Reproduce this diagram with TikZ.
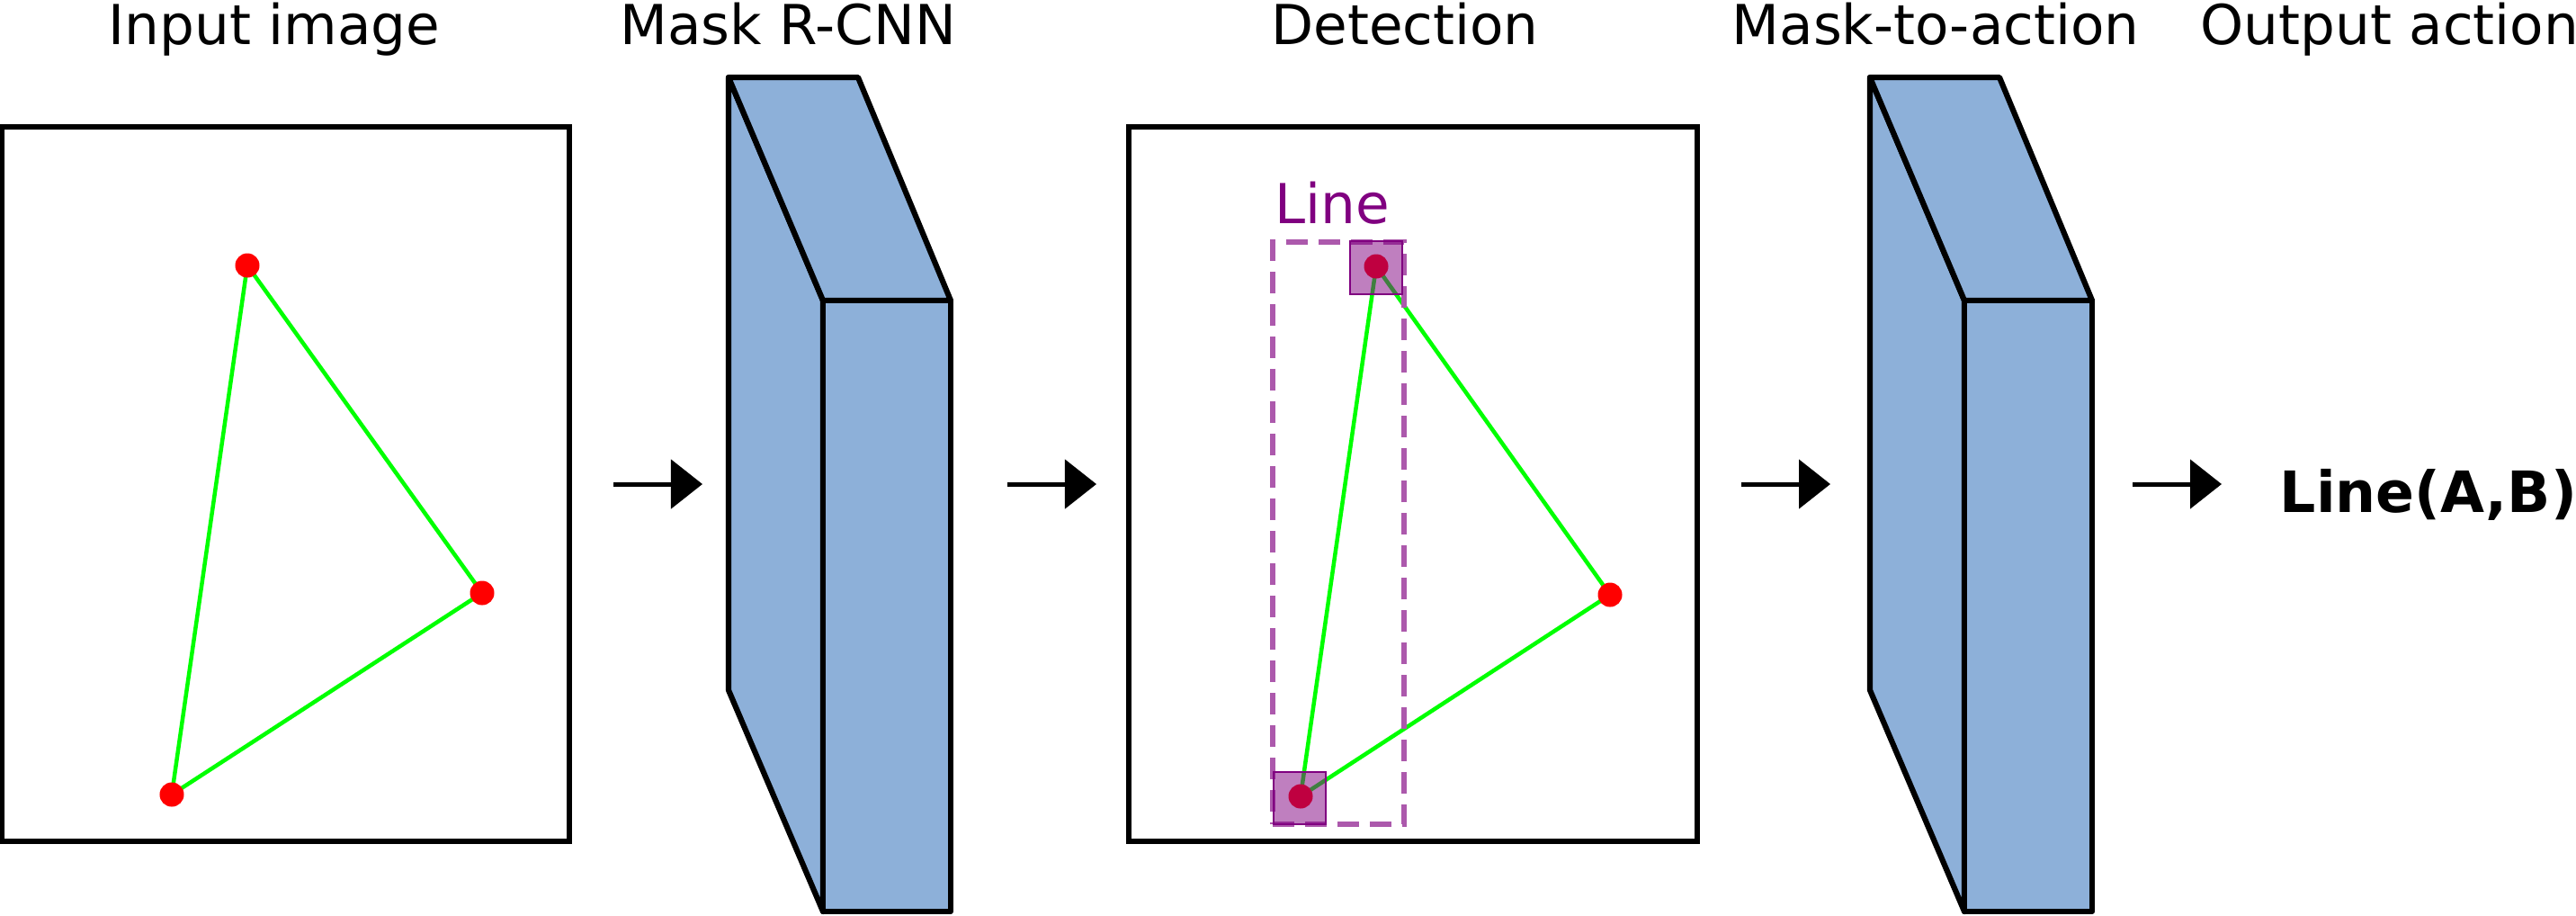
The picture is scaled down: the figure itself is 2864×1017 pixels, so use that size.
\documentclass[tikz,border=0pt]{standalone}
\usepackage{fontspec}
\setmainfont{DejaVu Sans}
\usetikzlibrary{arrows.meta}
\definecolor{blockblue}{RGB}{141,176,217}
\definecolor{lgreen}{RGB}{0,255,0}
\definecolor{lpurple}{RGB}{128,0,128}
\begin{document}
\begin{tikzpicture}[x=0.01cm,y=-0.01cm,
  title/.style={font=\fontsize{17.4}{20}\selectfont, anchor=base, inner sep=0},
  frame/.style={draw, line width=0.06cm, minimum width=6.31cm, minimum height=7.94cm, inner sep=0},
  dot/.style={circle, fill=red, minimum size=0.27cm, inner sep=0},
  edge/.style={draw=lgreen, line width=0.045cm},
  face/.style={fill=blockblue, draw=black, line width=0.062cm, line join=round},
  flow/.style={-{Triangle[length=0.35cm,width=0.54cm]}, line width=0.05cm},
  sel/.style={fill=lpurple, fill opacity=0.5, draw=lpurple, draw opacity=1, line width=0.02cm, minimum size=0.58cm, inner sep=0},
  bbox/.style={draw=lpurple!65, dash pattern=on 0.24cm off 0.12cm, line width=0.055cm, inner sep=0, minimum width=1.46cm, minimum height=6.47cm}
]
\useasboundingbox (0,0) rectangle (2864,1017);

% titles
\node[title] (t1) at (305,49) {Input image};
\node[title] (t2) at (876,49) {Mask R-CNN};
\node[title] (t3) at (1562,49) {Detection};
\node[title] (t4) at (2152,49) {Mask-to-action};
\node[title, anchor=base west] (t5) at (2446,49) {Output action};

% input image
\node[frame] (inbox) at (317.5,538) {};
\coordinate (iA) at (275,295);
\coordinate (iB) at (536,659);
\coordinate (iC) at (191,883);
\draw[edge] (iA) -- (iB) -- (iC) -- cycle;
\node[dot] (iAd) at (iA) {};
\node[dot] (iBd) at (iB) {};
\node[dot] (iCd) at (iC) {};

% Mask R-CNN block
\draw[face] (810,86) -- (915,334) -- (915,1013) -- (810,767) -- cycle;
\draw[face] (810,86) -- (954,86) -- (1057,334) -- (915,334) -- cycle;
\draw[face] (915,334) rectangle (1057,1013);

% detection
\node[frame] (detbox) at (1571,538) {};
\coordinate (dA) at (1530,296);
\coordinate (dB) at (1790,661);
\coordinate (dC) at (1446,885);
\draw[edge] (dA) -- (dB) -- (dC) -- cycle;
\node[dot] (dAd) at (dA) {};
\node[dot] (dBd) at (dB) {};
\node[dot] (dCd) at (dC) {};
\node[bbox] (linebox) at (1488,592.5) {};
\node[font=\fontsize{17.4}{20}\selectfont, text=lpurple, anchor=base west, inner sep=0] (linelbl) at (1417,248) {Line};
\node[sel] (selA) at (1530,297.5) {};
\node[sel] (selC) at (1445,886.5) {};

% Mask-to-action block
\draw[face] (2079,86) -- (2184,334) -- (2184,1013) -- (2079,767) -- cycle;
\draw[face] (2079,86) -- (2223,86) -- (2326,334) -- (2184,334) -- cycle;
\draw[face] (2184,334) rectangle (2326,1013);

% output
\node[font=\fontsize{18}{22}\selectfont\bfseries, anchor=base west, inner sep=0] (out) at (2534,569) {Line(A,B)};

% arrows
\coordinate (a1s) at (682,538); \coordinate (a1e) at (781,538);
\coordinate (a2s) at (1120,538); \coordinate (a2e) at (1219,538);
\coordinate (a3s) at (1936,538); \coordinate (a3e) at (2035,538);
\coordinate (a4s) at (2371,538); \coordinate (a4e) at (2470,538);
\draw[flow] (a1s) -- (a1e);
\draw[flow] (a2s) -- (a2e);
\draw[flow] (a3s) -- (a3e);
\draw[flow] (a4s) -- (a4e);
\end{tikzpicture}
\end{document}
